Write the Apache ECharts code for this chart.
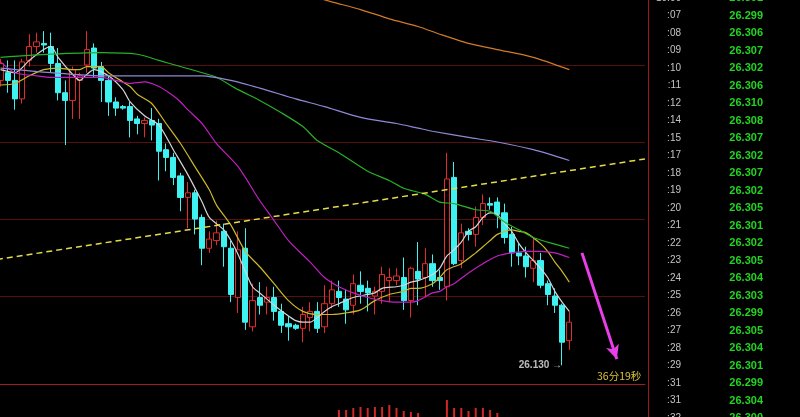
<!DOCTYPE html>
<html><head><meta charset="utf-8">
<script src="https://cdn.jsdelivr.net/npm/echarts@6/dist/echarts.min.js"></script>
<style>html,body{margin:0;padding:0;background:#000;}#c{width:800px;height:417px;}</style>
</head><body><div id="c"></div>
<script>
const categories = Array.from({length: 90}, (_, i) => String(i + 1));
// [open, close, low, high]
const ohlc = [
[26.315,26.326,26.311,26.329],[26.320,26.315,26.307,26.328],[26.315,26.303,26.296,26.328],[26.303,26.327,26.300,26.329],
[26.328,26.337,26.324,26.345],[26.337,26.340,26.333,26.346],[26.339,26.338,26.333,26.347],[26.337,26.326,26.320,26.346],
[26.326,26.307,26.302,26.336],[26.307,26.302,26.273,26.315],[26.302,26.322,26.290,26.324],[26.315,26.318,26.290,26.320],
[26.325,26.335,26.320,26.347],[26.336,26.323,26.317,26.339],[26.324,26.315,26.301,26.327],[26.315,26.301,26.292,26.318],
[26.301,26.297,26.292,26.304],[26.298,26.297,26.296,26.299],[26.298,26.289,26.278,26.301],[26.290,26.287,26.280,26.292],
[26.287,26.289,26.278,26.291],[26.289,26.286,26.276,26.297],[26.287,26.269,26.250,26.290],[26.270,26.265,26.256,26.274],
[26.265,26.252,26.247,26.268],[26.253,26.239,26.230,26.255],[26.239,26.242,26.219,26.249],[26.242,26.225,26.215,26.244],
[26.226,26.206,26.195,26.228],[26.206,26.212,26.203,26.217],[26.211,26.216,26.208,26.224],[26.217,26.207,26.194,26.222],
[26.206,26.176,26.171,26.211],[26.174,26.205,26.164,26.217],[26.206,26.158,26.153,26.219],[26.155,26.172,26.152,26.183],
[26.174,26.169,26.163,26.184],[26.171,26.174,26.163,26.181],[26.174,26.165,26.159,26.181],[26.165,26.156,26.151,26.170],
[26.157,26.155,26.146,26.162],[26.156,26.154,26.153,26.157],[26.154,26.163,26.145,26.168],[26.161,26.165,26.152,26.171],
[26.165,26.154,26.151,26.171],[26.155,26.170,26.151,26.182],[26.170,26.179,26.167,26.185],[26.178,26.174,26.168,26.185],
[26.173,26.166,26.157,26.179],[26.169,26.183,26.163,26.189],[26.182,26.178,26.170,26.191],[26.180,26.177,26.165,26.185],
[26.175,26.178,26.163,26.181],[26.178,26.189,26.170,26.194],[26.185,26.187,26.171,26.193],[26.185,26.188,26.182,26.193],
[26.187,26.172,26.166,26.200],[26.172,26.193,26.161,26.194],[26.191,26.186,26.169,26.210],[26.187,26.196,26.174,26.206],
[26.196,26.185,26.181,26.202],[26.187,26.185,26.179,26.192],[26.181,26.251,26.172,26.268],[26.252,26.196,26.195,26.262],
[26.198,26.216,26.193,26.222],[26.217,26.215,26.211,26.219],[26.215,26.226,26.207,26.233],[26.226,26.235,26.221,26.241],
[26.235,26.234,26.231,26.239],[26.236,26.228,26.219,26.239],[26.229,26.213,26.209,26.235],[26.215,26.203,26.194,26.220],
[26.203,26.201,26.195,26.209],[26.201,26.194,26.187,26.207],[26.193,26.198,26.184,26.213],[26.198,26.182,26.180,26.203],
[26.183,26.176,26.169,26.185],[26.175,26.169,26.164,26.180],[26.169,26.145,26.130,26.170],[26.146,26.158,26.140,26.165]
];
const volumes = [18,15,20,22,17,14,12,16,21,24,19,15,20,18,14,17,12,10,15,11,9,13,22,14,18,20,17,16,23,12,13,19,25,24,26,18,12,13,15,14,11,10,16,15,17,19,15,
34,34,36,37,36,37,37,39,36,33,32,31,25,24,22,44,36,36,33,36,36,34,31,26,22,18,17,20,21,19,20,26,22];
// moving averages as [bar index, value]
const ma5 = [[0,26.322],[2,26.320],[4,26.328],[6,26.335],[7,26.337],[8,26.330],[10,26.319],[11,26.315],[12,26.319],[13,26.322],[15,26.318],[17,26.309],[18,26.301],[20,26.292],[22,26.286],[24,26.270],[26,26.254],[28,26.236],[29,26.226],[31,26.218],[32,26.211],[33,26.202],[34,26.191],[35,26.181],[36,26.177],[38,26.169],[40,26.162],[41,26.159],[42,26.158],[43,26.158],[44,26.161],[45,26.165],[46,26.168],[47,26.170],[49,26.174],[51,26.176],[52,26.177],[53,26.180],[55,26.181],[56,26.182],[57,26.184],[58,26.185],[60,26.189],[61,26.193],[62,26.201],[63,26.205],[64,26.210],[65,26.217],[66,26.220],[67,26.226],[68,26.229],[69,26.228],[70,26.222],[71,26.217],[72,26.209],[73,26.203],[74,26.198],[75,26.193],[76,26.187],[77,26.178],[78,26.171],[79,26.165]];
const ma10 = [[0,26.312],[2,26.313],[4,26.318],[6,26.322],[8,26.323],[10,26.322],[11,26.322],[12,26.324],[14,26.324],[15,26.320],[17,26.314],[18,26.311],[19,26.306],[21,26.300],[23,26.287],[25,26.274],[27,26.259],[29,26.244],[30,26.234],[32,26.221],[34,26.204],[36,26.194],[38,26.183],[40,26.172],[42,26.165],[44,26.163],[46,26.163],[48,26.164],[50,26.166],[52,26.172],[54,26.176],[56,26.178],[57,26.180],[58,26.180],[60,26.183],[61,26.187],[62,26.192],[64,26.196],[66,26.203],[67,26.207],[68,26.211],[69,26.215],[71,26.218],[72,26.217],[73,26.216],[75,26.209],[76,26.204],[77,26.197],[78,26.191],[79,26.184]];
const ma20 = [[0,26.327],[2,26.320],[5,26.318],[7,26.317],[9,26.317],[12,26.317],[14,26.317],[16,26.315],[18,26.313],[20,26.314],[22,26.311],[24,26.305],[25,26.301],[26,26.296],[28,26.287],[30,26.274],[33,26.259],[36,26.237],[38,26.224],[40,26.211],[43,26.197],[45,26.187],[47,26.181],[49,26.177],[51,26.174],[53,26.172],[55,26.171],[57,26.171],[58,26.172],[60,26.177],[61,26.178],[62,26.181],[63,26.183],[65,26.190],[67,26.196],[69,26.201],[71,26.203],[73,26.204],[75,26.204],[77,26.203],[79,26.200]];
const ma60 = [[0,26.330],[7,26.332],[14,26.333],[19,26.332],[22,26.328],[25,26.324],[28,26.320],[30,26.317],[33,26.309],[36,26.302],[39,26.294],[42,26.285],[44,26.276],[47,26.268],[51,26.256],[54,26.250],[56,26.245],[59,26.241],[61,26.236],[63,26.235],[66,26.231],[68,26.230],[70,26.223],[72,26.218],[74,26.213],[76,26.210],[79,26.206]];
const ma120 = [[0,26.323],[7,26.320],[14,26.318],[21,26.318],[28,26.318],[32,26.315],[36,26.310],[41,26.303],[45,26.298],[50,26.291],[55,26.287],[58,26.284],[60,26.282],[65,26.278],[69,26.275],[74,26.270],[79,26.263]];
const ma250 = [[43,26.370],[46,26.366],[50,26.361],[54,26.355],[58,26.350],[61,26.345],[65,26.339],[69,26.335],[74,26.330],[79,26.322]];
const trendline = [[-0.5,26.1987],[89.5,26.2640]];
const arrowFrom = [80.76,26.203];
const arrowTo = [85.6,26.134];
const lowPoint = [78,26.130];
const lowText = '26.130 →';
const countdownText = '36分19秒';
const tickTimes = ['10:06',':07',':08',':09',':10',':11',':12',':14',':15',':17',':18',':19',':20',':21',':22',':23',':24',':25',':26',':27',':28',':29',':31',':31',':32'];
const tickPrices = ['26.301','26.299','26.306','26.307','26.302','26.306','26.310','26.308','26.307','26.302','26.307','26.302','26.305','26.301','26.302','26.305','26.304','26.303','26.299','26.305','26.304','26.301','26.299','26.304','26.300'];

const FONT = '"Liberation Sans", Arial, sans-serif';
const chart = echarts.init(document.getElementById('c'), null, {renderer: 'canvas'});
function maLine(name, data, color) {
  return {name, type: 'line', xAxisIndex: 1, yAxisIndex: 0, data, showSymbol: false, symbol: 'none',
    smooth: 0.25, lineStyle: {color, width: 1.2}, z: 3, silent: true};
}
chart.setOption({
  animation: false,
  backgroundColor: '#000000',
  grid: [
    {left: -3.1, top: -12, width: 648, height: 385, containLabel: false, outerBoundsMode: 'none'},
    {left: -3.1, top: 384, width: 648, height: 60, containLabel: false, outerBoundsMode: 'none'},
    {left: 648, top: -10.75, width: 152, height: 437.5, containLabel: false, outerBoundsMode: 'none'}
  ],
  xAxis: [
    {gridIndex: 0, type: 'category', data: categories, boundaryGap: true, show: false},
    {gridIndex: 0, type: 'value', min: -0.5, max: 89.5, show: false},
    {gridIndex: 1, type: 'category', data: categories, boundaryGap: true, position: 'top',
     axisLine: {show: true, onZero: false, lineStyle: {color: '#a51c1c', width: 1}},
     axisTick: {show: false}, axisLabel: {show: false}, splitLine: {show: false}},
    {gridIndex: 2, type: 'value', min: 0, max: 1, show: false}
  ],
  yAxis: [
    {gridIndex: 0, type: 'value', min: 26.125, max: 26.375, interval: 0.05,
     axisLine: {show: false}, axisTick: {show: false}, axisLabel: {show: false},
     splitLine: {show: true, showMinLine: false, showMaxLine: false, lineStyle: {color: '#561010', width: 1}}},
    {gridIndex: 1, type: 'value', min: 0, max: 60, show: false},
    {gridIndex: 2, type: 'category', data: tickTimes, inverse: true, position: 'left',
     axisLine: {show: true, onZero: false, lineStyle: {color: '#a01818', width: 1}},
     axisTick: {show: false}, splitLine: {show: false},
     axisLabel: {inside: true, margin: 33, align: 'right', interval: 0, color: '#c4c4c4', fontSize: 10, fontFamily: FONT}},
    {gridIndex: 2, type: 'category', data: tickPrices, inverse: true, position: 'right',
     axisLine: {show: false}, axisTick: {show: false}, splitLine: {show: false},
     axisLabel: {inside: true, margin: 37, align: 'right', interval: 0, color: '#22d422', fontSize: 11, fontWeight: 'bold', fontFamily: FONT}}
  ],
  series: [
    {type: 'candlestick', xAxisIndex: 0, yAxisIndex: 0, data: ohlc, barWidth: 5.6, z: 2,
     itemStyle: {color: '#000000', color0: '#3ef2f2', borderColor: '#e02c2c', borderColor0: '#3ef2f2', borderWidth: 1}},
    maLine('MA5', ma5, '#d6d6d6'),
    maLine('MA10', ma10, '#cdb82a'),
    maLine('MA20', ma20, '#c21fc2'),
    maLine('MA60', ma60, '#27b127'),
    maLine('MA120', ma120, '#9088d6'),
    maLine('MA250', ma250, '#d07a2a'),
    {type: 'line', xAxisIndex: 1, yAxisIndex: 0, data: trendline, showSymbol: false, symbol: 'none', silent: true, z: 4,
     lineStyle: {color: '#e4dc48', width: 1.5, type: [6, 4]},
     markLine: {silent: true, symbol: ['none', 'arrow'], symbolSize: [10, 14], label: {show: false},
       lineStyle: {color: '#e83fe8', width: 3, type: 'solid'},
       data: [[{coord: arrowFrom}, {coord: arrowTo}]]}},
    {type: 'scatter', xAxisIndex: 1, yAxisIndex: 0, data: [lowPoint], symbolSize: 0, silent: true, z: 6,
     label: {show: true, position: 'left', distance: 0, formatter: lowText, color: '#e8e8e8', fontSize: 10, fontWeight: 'bold', fontFamily: FONT}},
    {type: 'bar', xAxisIndex: 2, yAxisIndex: 1, data: volumes, barWidth: 2, itemStyle: {color: '#d02828'}, silent: true}
  ],
  graphic: [
    {type: 'text', left: 597, top: 371, silent: true,
     style: {text: countdownText, fill: '#d8c23a', font: '10.5px "Noto Sans CJK SC", sans-serif'}}
  ]
});
</script></body></html>
